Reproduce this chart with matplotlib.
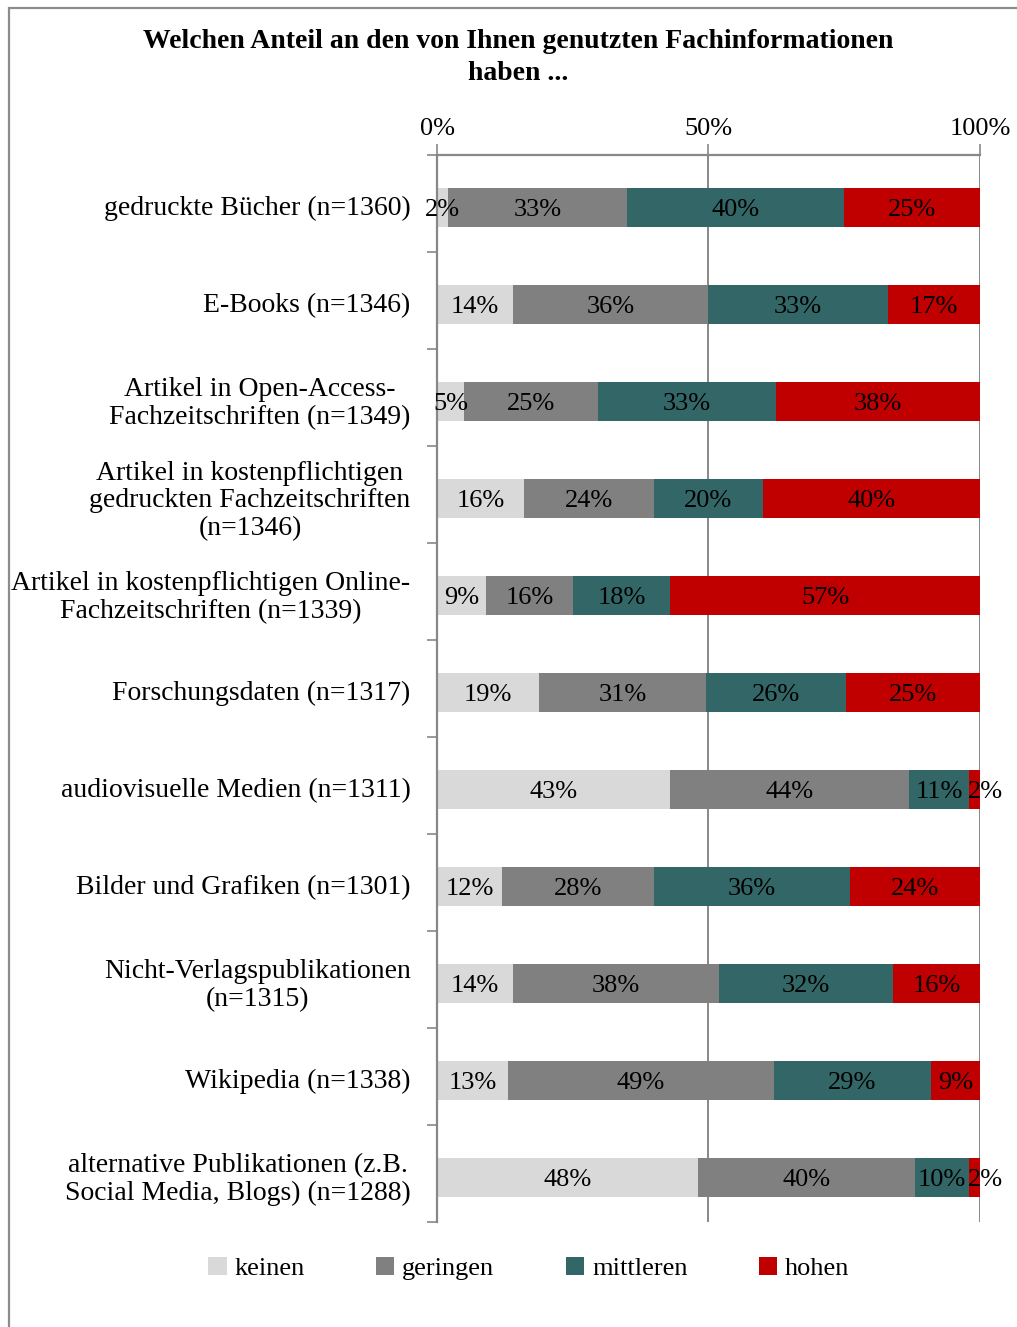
import numpy as np
import matplotlib.pyplot as plt
from matplotlib.patches import Rectangle

categories = [
    "gedruckte Bücher (n=1360)",
    "E-Books (n=1346)",
    "Artikel in Open-Access-\nFachzeitschriften (n=1349)",
    "Artikel in kostenpflichtigen\ngedruckten Fachzeitschriften\n(n=1346)",
    "Artikel in kostenpflichtigen Online-\nFachzeitschriften (n=1339)",
    "Forschungsdaten (n=1317)",
    "audiovisuelle Medien (n=1311)",
    "Bilder und Grafiken (n=1301)",
    "Nicht-Verlagspublikationen\n(n=1315)",
    "Wikipedia (n=1338)",
    "alternative Publikationen (z.B.\nSocial Media, Blogs) (n=1288)",
]
series = ["keinen", "geringen", "mittleren", "hohen"]
keinen = [2, 14, 5, 16, 9, 19, 43, 12, 14, 13, 48]
geringen = [33, 36, 25, 24, 16, 31, 44, 28, 38, 49, 40]
mittleren = [40, 33, 33, 20, 18, 26, 11, 36, 32, 29, 10]
hohen = [25, 17, 38, 40, 57, 25, 2, 24, 16, 9, 2]
colors = ["#D9D9D9", "#808080", "#336666", "#C00000"]

plt.rcParams["font.family"] = ["Liberation Serif", "DejaVu Serif"]

data = np.array([keinen, geringen, mittleren, hohen], dtype=float)
share = data / data.sum(axis=0) * 100

fig = plt.figure(figsize=(10.17, 13.27), dpi=100)
ax = fig.add_axes([0.4297, 0.0791, 0.5339, 0.8041])

y = np.arange(len(categories)) + 0.04
left = np.zeros(len(categories))
last = len(series) - 1
for i, name in enumerate(series):
    bars = ax.barh(y, share[i], left=left, height=0.4, color=colors[i],
                   label=name, zorder=2)
    for j, v in enumerate(data[i]):
        if i == last and v <= 2:
            # tiny last segment: label starts at the segment like in the original
            x, ha = left[j] - 0.2, "left"
        else:
            x, ha = left[j] + share[i][j] / 2, "center"
        ax.text(x, y[j] + 0.03, f"{int(v)}%", ha=ha, va="center",
                fontsize=19, zorder=3)
    left += share[i]

ax.set_xlim(0, 100)
ax.set_ylim(len(categories) - 0.5, -0.5)
ax.xaxis.tick_top()
ax.set_xticks([0, 50, 100])
ax.set_xticklabels(["0%", "50%", "100%"], fontsize=19)
ax.tick_params(axis="x", length=8, width=1.2, color="#888888", pad=3)
ax.grid(axis="x", color="#888888", linewidth=1.4, zorder=0)
ax.set_axisbelow(True)

ax.set_yticks(np.arange(len(categories)) + 0.02)
ax.set_yticklabels(categories, fontsize=20, ha="right", multialignment="center",
                   linespacing=1.15)
ax.set_yticks(np.arange(len(categories) + 1) - 0.5, minor=True)
ax.tick_params(axis="y", which="major", length=0, pad=19)
ax.tick_params(axis="y", which="minor", length=7, width=1.2, color="#888888")

for s in ["right", "bottom"]:
    ax.spines[s].set_visible(False)
for s in ["left", "top"]:
    ax.spines[s].set_color("#888888")
    ax.spines[s].set_linewidth(1.6)

fig.text(0.51, 0.978, "Welchen Anteil an den von Ihnen genutzten Fachinformationen\nhaben ...",
         ha="center", va="top", fontsize=20, fontweight="bold", linespacing=1.35)

fig.legend(loc="center", bbox_to_anchor=(0.52, 0.044), ncol=4, frameon=False,
           fontsize=19, handlelength=0.7, handleheight=0.7, handletextpad=0.3,
           columnspacing=2.7)

fig.patches.append(Rectangle((0.009, -0.05), 1.2, 1.044, transform=fig.transFigure,
                             fill=False, edgecolor="#8c8c8c", linewidth=1.6))

fig.savefig("out.png", dpi=100)
